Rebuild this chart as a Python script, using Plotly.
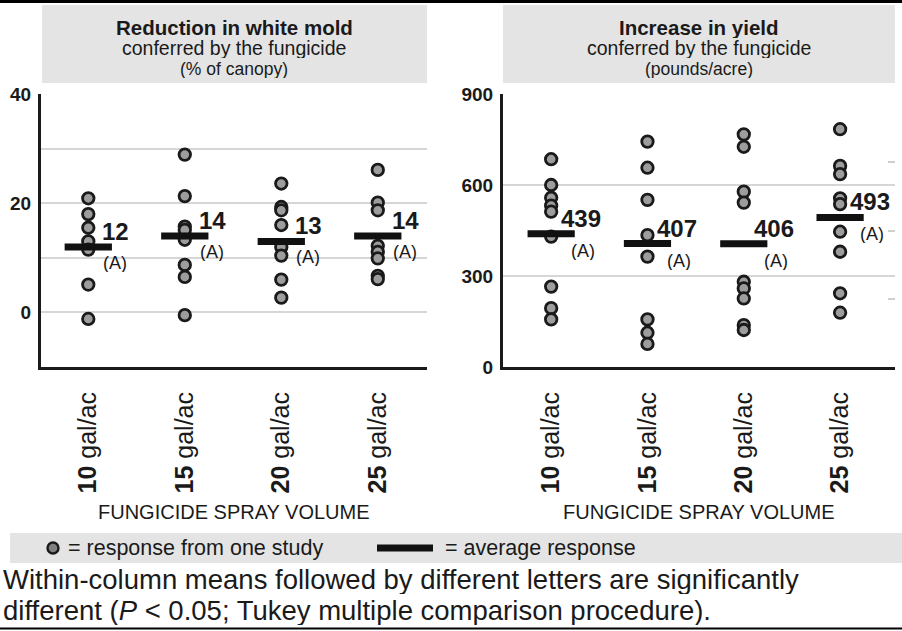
import plotly.graph_objects as go

W, H = 902, 631
FONT = "Arial, Liberation Sans, Helvetica, sans-serif"
INK = "#1a1a1a"

# ---------------- data ----------------
categories = ["10", "15", "20", "25"]
tick_labels = ["<b>10</b> gal/ac", "<b>15</b> gal/ac", "<b>20</b> gal/ac", "<b>25</b> gal/ac"]
mold_ticks = [-10, 0, 10, 20, 30, 40]
mold_tick_text = ["", "<b>0</b>", "", "<b>20</b>", "", "<b>40</b>"]
yield_ticks = [0, 300, 600, 900]
yield_tick_text = ["<b>0</b>", "<b>300</b>", "<b>600</b>", "<b>900</b>"]
yield_minor_ticks = [225, 450, 675]

mold_10 = [20.9, 18.0, 15.5, 13.0, 11.5, 5.1, -1.2]
mold_15 = [28.9, 21.3, 15.7, 15.1, 13.3, 8.7, 6.5, -0.5]
mold_20 = [23.6, 19.3, 18.7, 16.0, 12.0, 10.4, 6.0, 2.7]
mold_25 = [26.1, 20.1, 18.7, 12.2, 11.1, 9.9, 6.7, 6.1]
mold_means = [12, 14, 13, 14]
mold_letters = ["(A)", "(A)", "(A)", "(A)"]

yield_10 = [685, 600, 558, 532, 512, 430, 265, 194, 157]
yield_15 = [743, 657, 551, 435, 364, 157, 113, 76]
yield_20 = [767, 726, 578, 542, 281, 259, 226, 138, 122]
yield_25 = [784, 663, 636, 556, 537, 446, 380, 243, 179]
yield_means = [439, 407, 406, 493]
yield_letters = ["(A)", "(A)", "(A)", "(A)"]

mold_groups = [mold_10, mold_15, mold_20, mold_25]
yield_groups = [yield_10, yield_15, yield_20, yield_25]

# ---------------- helpers ----------------
def px(x):
    return x / W

def py(y):
    return 1 - y / H

BAR_HALF = 0.245

fig = go.Figure()

def add_panel(groups, means, letters, xa, ya, num_shift, let_shift):
    marker = dict(size=11.5, color="#9d9d9d", line=dict(color=INK, width=2.8))
    for i, vals in enumerate(groups):
        fig.add_trace(go.Scatter(
            x=[i] * len(vals), y=vals, mode="markers", marker=marker,
            xaxis=xa, yaxis=ya, showlegend=False, cliponaxis=False,
            hoverinfo="y"))
    bx, by = [], []
    for i, m in enumerate(means):
        bx += [i - BAR_HALF, i + BAR_HALF, None]
        by += [m, m, None]
    fig.add_trace(go.Scatter(
        x=bx, y=by, mode="lines", line=dict(color="#111111", width=7),
        xaxis=xa, yaxis=ya, showlegend=False, hoverinfo="skip"))
    for i, (m, l) in enumerate(zip(means, letters)):
        fig.add_annotation(
            x=i, y=m, xref=xa, yref=ya, text=f"<b>{m}</b>", showarrow=False,
            xanchor="left", yanchor="middle", xshift=num_shift[0], yshift=num_shift[1],
            height=24, font=dict(family=FONT, size=24, color=INK))
        fig.add_annotation(
            x=i, y=m, xref=xa, yref=ya, text=l, showarrow=False,
            xanchor="left", yanchor="middle", xshift=let_shift[0], yshift=let_shift[1],
            height=18, font=dict(family=FONT, size=18, color=INK))

add_panel(mold_groups, mold_means, mold_letters, "x", "y", (12, 16), (13, -16))
add_panel(yield_groups, yield_means, yield_letters, "x2", "y2", (8, 16), (18, -17))

# invisible helper trace so the right-edge stub ticks axis is drawn
fig.add_trace(go.Scatter(x=[], y=[], xaxis="x2", yaxis="y3", showlegend=False,
                         hoverinfo="skip"))

xaxis_common = dict(
    tickmode="array", tickvals=list(range(len(categories))), ticktext=tick_labels,
    tickangle=-90, ticks="", showline=True, linecolor=INK, linewidth=3,
    showgrid=False, zeroline=False, ticklabelstandoff=12, automargin=False,
    tickfont=dict(family=FONT, size=25, color=INK), fixedrange=True)

yaxis_common = dict(
    tickmode="array", ticks="", showline=True, linecolor=INK, linewidth=3, showgrid=True,
    gridcolor="#d6d6d6", gridwidth=1.5, zeroline=False, automargin=False,
    tickfont=dict(family=FONT, size=19, color=INK), ticklabelstandoff=3,
    fixedrange=True)

fig.update_layout(
    width=W, height=H,
    margin=dict(l=0, r=0, t=0, b=0, autoexpand=False),
    paper_bgcolor="white", plot_bgcolor="white",
    showlegend=False,
    xaxis=dict(domain=[px(41), px(427)], range=[-0.49, 3.51], anchor="y", **xaxis_common),
    yaxis=dict(domain=[py(367), py(94)], range=[-10, 40], anchor="x",
               tickvals=mold_ticks, ticktext=mold_tick_text, **yaxis_common),
    xaxis2=dict(domain=[px(503), px(895)], range=[-0.5, 3.57], anchor="y2", **xaxis_common),
    yaxis2=dict(domain=[py(367), py(94)], range=[0, 900], anchor="x2",
                tickvals=yield_ticks, ticktext=yield_tick_text, **yaxis_common),
    yaxis3=dict(overlaying="y2", side="right", anchor="x2", range=[0, 900],
                tickmode="array", tickvals=yield_minor_ticks, ticks="inside", ticklen=7,
                tickwidth=1.5, tickcolor="#cfcfcf", showticklabels=False, showline=False,
                showgrid=False, zeroline=False, fixedrange=True, automargin=False),
)

shapes = []
# top and bottom rules
shapes.append(dict(type="line", xref="paper", yref="paper", x0=0, x1=1,
                   y0=py(1.5), y1=py(1.5), line=dict(color="black", width=3)))
shapes.append(dict(type="line", xref="paper", yref="paper", x0=0, x1=1,
                   y0=py(628.5), y1=py(628.5), line=dict(color="black", width=2)))
# header boxes
for x0, x1 in [(42, 427), (503, 895)]:
    shapes.append(dict(type="rect", xref="paper", yref="paper", x0=px(x0), x1=px(x1),
                       y0=py(83), y1=py(5), fillcolor="#e4e4e4", line=dict(width=0),
                       layer="below"))
# legend band
shapes.append(dict(type="rect", xref="paper", yref="paper", x0=px(10), x1=1,
                   y0=py(563), y1=py(533), fillcolor="#e4e4e4", line=dict(width=0),
                   layer="below"))
# legend keys
shapes.append(dict(type="circle", xref="paper", yref="paper", x0=px(47.5), x1=px(58.5),
                   y0=py(553.5), y1=py(542.5), fillcolor="#808080",
                   line=dict(color=INK, width=2.4)))
shapes.append(dict(type="rect", xref="paper", yref="paper", x0=px(377), x1=px(433),
                   y0=py(551.5), y1=py(544.5), fillcolor="#111111", line=dict(width=0)))
fig.update_layout(shapes=shapes)

def note(x, y, text, size, xanchor="center", bold=False, height=None):
    fig.add_annotation(x=px(x), y=py(y), xref="paper", yref="paper",
                       text=f"<b>{text}</b>" if bold else text, showarrow=False,
                       xanchor=xanchor, yanchor="middle", height=height,
                       font=dict(family=FONT, size=size, color=INK))

# headers
note(234.5, 27, "Reduction in white mold", 20.5, bold=True, height=21)
note(234.5, 48, "conferred by the fungicide", 19.5, height=20)
note(234.5, 69, "(% of canopy)", 17.5, height=18)
note(699, 27, "Increase in yield", 20.5, bold=True, height=21)
note(699, 48, "conferred by the fungicide", 19.5, height=20)
note(699, 69, "(pounds/acre)", 17.5, height=18)

# axis titles
note(234.5, 512, "FUNGICIDE SPRAY VOLUME", 20)
note(699, 512, "FUNGICIDE SPRAY VOLUME", 20)

# legend text
note(66, 548, "= response from one study", 21.5, xanchor="left")
note(443, 548, "= average response", 21.5, xanchor="left")

# footer
note(1, 579, "Within-column means followed by different letters are significantly", 27.5,
     xanchor="left", height=30)
note(1, 610, "different (<i>P</i> &lt; 0.05; Tukey multiple comparison procedure).", 27.5,
     xanchor="left", height=30)

fig.write_html("out.html",
               config={"displayModeBar": False},
               post_script="document.body.style.margin='0';"
                           "document.body.style.overflow='hidden';")
